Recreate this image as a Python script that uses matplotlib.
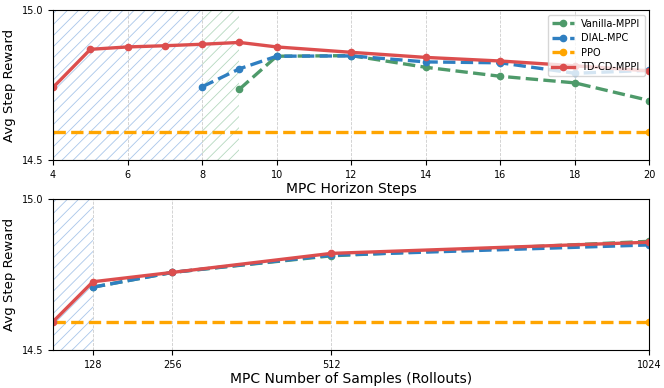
import matplotlib
matplotlib.use("Agg")
import matplotlib.pyplot as plt

# horizon sweep
horizon = [4, 5, 6, 7, 8, 9, 10, 12, 14, 16, 18, 20]
td_h = [14.742, 14.869, 14.877, 14.881, 14.886, 14.892, 14.877, 14.859, 14.842, 14.830, 14.814, 14.797]
dial_h_x = [8, 9, 10, 12, 14, 16, 18, 20]
dial_h = [14.744, 14.804, 14.846, 14.847, 14.827, 14.824, 14.789, 14.799]
van_h_x = [9, 10, 12, 14, 16, 18, 20]
van_h = [14.736, 14.846, 14.848, 14.809, 14.779, 14.757, 14.698]
ppo = 14.592

# samples sweep
samples = [64, 128, 256, 512, 1024]
td_s = [14.594, 14.726, 14.757, 14.820, 14.857]
samples_b = [128, 256, 512, 1024]
dial_s = [14.708, 14.757, 14.814, 14.848]
van_s = [14.708, 14.757, 14.812, 14.860]

c_van = '#4e9a6a'
c_dial = '#2f7fc1'
c_ppo = '#ffa500'
c_td = '#dc4e4e'

plt.rcParams['hatch.linewidth'] = 0.6
fig = plt.figure(figsize=(6.64, 3.88), dpi=100)
ax1 = fig.add_axes([0.08, 0.588, 0.898, 0.386])
ax2 = fig.add_axes([0.08, 0.098, 0.898, 0.389])

ax1.axvspan(4, 8, facecolor='none', edgecolor='#a9c6ea', hatch='///', linewidth=0, zorder=0)
ax1.axvspan(8, 9, facecolor='none', edgecolor='#b5d8bf', hatch='///', linewidth=0, zorder=0)
ax1.plot(van_h_x, van_h, '--', color=c_van, lw=2.4, marker='o', ms=4.5, label='Vanilla-MPPI')
ax1.plot(dial_h_x, dial_h, '--', color=c_dial, lw=2.4, marker='o', ms=4.5, label='DIAL-MPC')
ax1.plot([4, 20], [ppo, ppo], '--', color=c_ppo, lw=2.4, marker='o', ms=4.5, markevery=[1], label='PPO')
ax1.plot(horizon, td_h, '-', color=c_td, lw=2.4, marker='o', ms=4.5, label='TD-CD-MPPI')
ax1.set_xlim(4, 20)
ax1.set_ylim(14.5, 15.0)
ax1.set_xticks([4, 6, 8, 10, 12, 14, 16, 18, 20])
ax1.set_yticks([14.5, 15.0])
ax1.set_xlabel('MPC Horizon Steps', fontsize=10, labelpad=2)
ax1.set_ylabel('Avg Step Reward', fontsize=9.5)
ax1.grid(True, axis='x', linestyle='--', color='#cccccc', lw=0.6)
ax1.tick_params(labelsize=7)
ax1.legend(loc='upper right', fontsize=7, handlelength=2.2, borderpad=0.4, labelspacing=0.45)

ax2.axvspan(64, 128, facecolor='none', edgecolor='#a9c6ea', hatch='///', linewidth=0, zorder=0)
ax2.plot(samples_b, van_s, '--', color=c_van, lw=2.4, marker='o', ms=4.5)
ax2.plot(samples_b, dial_s, '--', color=c_dial, lw=2.4, marker='o', ms=4.5)
ax2.plot([64, 1024], [ppo, ppo], '--', color=c_ppo, lw=2.4, marker='o', ms=4.5, markevery=[1])
ax2.plot(samples, td_s, '-', color=c_td, lw=2.4, marker='o', ms=4.5)
ax2.set_xlim(64, 1024)
ax2.set_ylim(14.5, 15.0)
ax2.set_xticks([128, 256, 512, 1024])
ax2.set_yticks([14.5, 15.0])
ax2.set_xlabel('MPC Number of Samples (Rollouts)', fontsize=10, labelpad=2)
ax2.set_ylabel('Avg Step Reward', fontsize=9.5)
ax2.grid(True, axis='x', linestyle='--', color='#cccccc', lw=0.6)
ax2.tick_params(labelsize=7)

fig.savefig('out.png', dpi=100)
